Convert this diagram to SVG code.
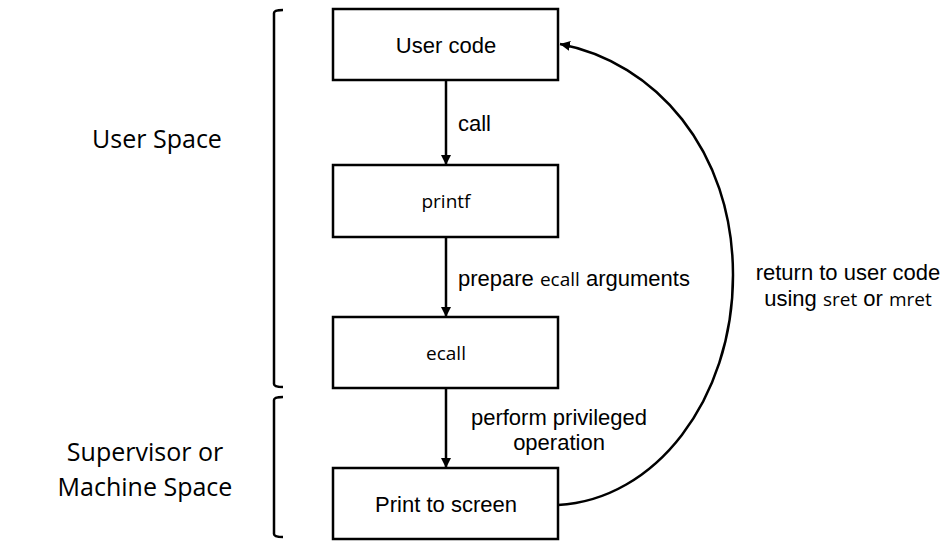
<svg xmlns="http://www.w3.org/2000/svg" width="950" height="557" viewBox="0 0 950 557">
<style>
.box{fill:#fff;stroke:#000;stroke-width:2.5}
.lbl{font-family:"Liberation Sans",Arial,sans-serif;font-size:22px;fill:#000}
.mono{font-family:"Open Sans","Noto Sans",sans-serif;font-size:19px;fill:#000}
.side{font-family:"Open Sans","Noto Sans",sans-serif;font-size:25px;fill:#000}
.con{fill:none;stroke:#000;stroke-width:2.5}
.brk{fill:none;stroke:#000;stroke-width:2.5}
</style>
<defs>
<marker id="ah" viewBox="0 0 10 10" refX="10" refY="5" markerWidth="4" markerHeight="4" orient="auto" markerUnits="strokeWidth">
<path d="M0,0 L10,5 L0,10 z" fill="#000"/>
</marker>
</defs>
<rect width="950" height="557" fill="#fff"/>
<g id="brackets">
<path class="brk" d="M283,10 Q274,10 274,13 L274,384 Q274,387 283,387"/>
<path class="brk" d="M283,397 Q274,397 274,400 L274,534 Q274,537 283,537"/>
</g>
<g id="side-labels">
<text class="side" x="157" y="148" text-anchor="middle">User Space</text>
<text class="side" x="145" y="461" text-anchor="middle">Supervisor or</text>
<text class="side" x="145" y="496" text-anchor="middle">Machine Space</text>
</g>
<g id="connectors">
<line class="con" x1="446" y1="80" x2="446" y2="165" marker-end="url(#ah)"/>
<line class="con" x1="446" y1="237" x2="446" y2="317" marker-end="url(#ah)"/>
<line class="con" x1="446" y1="388" x2="446" y2="468" marker-end="url(#ah)"/>
<path class="con" d="M558,505 C655,500 733,400 733,275 C733,150 655,62 560,44" marker-end="url(#ah)"/>
<text class="lbl" x="458" y="131">call</text>
<text class="lbl" x="458" y="286">prepare <tspan class="mono">ecall</tspan> arguments</text>
<text class="lbl" x="559" y="425" text-anchor="middle">perform privileged</text>
<text class="lbl" x="559" y="450" text-anchor="middle">operation</text>
<text class="lbl" x="848" y="280" text-anchor="middle">return to user code</text>
<text class="lbl" x="848" y="306" text-anchor="middle">using <tspan class="mono">sret</tspan> or <tspan class="mono">mret</tspan></text>
</g>
<g id="user-code">
<rect class="box" x="333" y="9" width="225" height="71"/>
<text class="lbl" x="446" y="53" text-anchor="middle">User code</text>
</g>
<g id="printf">
<rect class="box" x="333" y="165" width="225" height="72"/>
<text class="mono" x="446" y="208" text-anchor="middle">printf</text>
</g>
<g id="ecall">
<rect class="box" x="333" y="317" width="225" height="71"/>
<text class="mono" x="446" y="360" text-anchor="middle">ecall</text>
</g>
<g id="print-to-screen">
<rect class="box" x="333" y="468" width="225" height="71"/>
<text class="lbl" x="446" y="512" text-anchor="middle">Print to screen</text>
</g>
</svg>
